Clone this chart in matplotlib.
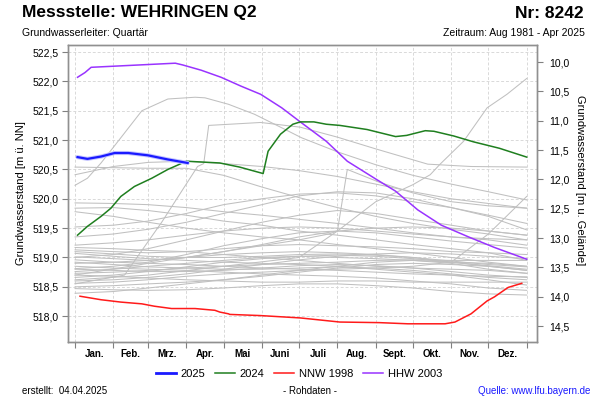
import matplotlib
matplotlib.use("Agg")
import matplotlib.pyplot as plt
from matplotlib.ticker import FuncFormatter, FixedLocator
from matplotlib.lines import Line2D

plt.rcParams['font.family'] = ['Liberation Sans', 'DejaVu Sans']

# ---------------- data ----------------
month_starts = [0, 31, 59, 90, 120, 151, 181, 212, 243, 273, 304, 334, 365]
month_labels = ["Jan.", "Feb.", "Mrz.", "Apr.", "Mai", "Juni", "Juli", "Aug.", "Sept.", "Okt.", "Nov.", "Dez."]
ground_level = 532.33

# 2025 (blue)
days_2025 = [2, 10, 21, 32, 43, 59, 75, 91]
lvl_2025 = [520.71, 520.68, 520.72, 520.78, 520.78, 520.74, 520.67, 520.61]

# 2024 (green)
days_2024 = [2, 10, 21, 29, 37, 48, 62, 75, 90, 117, 133, 152, 156, 166, 176, 182, 193, 203, 214,
             236, 259, 268, 283, 290, 306, 322, 343, 365]
lvl_2024 = [519.38, 519.53, 519.70, 519.84, 520.04, 520.21, 520.35, 520.50, 520.64, 520.61, 520.54,
            520.43, 520.81, 521.10, 521.27, 521.31, 521.31, 521.27, 521.25, 521.18, 521.06, 521.08,
            521.16, 521.15, 521.07, 520.97, 520.86, 520.71]

# NNW 1998 (red)
days_1998 = [4, 21, 37, 54, 64, 78, 97, 113, 117, 124, 125, 150, 182, 214, 246, 269, 299, 307,
             320, 333, 339, 350, 361]
lvl_1998 = [518.34, 518.28, 518.24, 518.21, 518.17, 518.13, 518.13, 518.10, 518.07, 518.04, 518.03,
            518.01, 517.97, 517.90, 517.89, 517.87, 517.87, 517.90, 518.04, 518.26, 518.33, 518.49,
            518.56]

# HHW 2003 (purple)
days_2003 = [2, 8, 13, 81, 87, 102, 118, 134, 150, 167, 182, 203, 220, 242, 259, 277, 296, 318,
             339, 365]
lvl_2003 = [522.07, 522.15, 522.24, 522.31, 522.28, 522.19, 522.07, 521.92, 521.78, 521.55, 521.31,
            520.98, 520.64, 520.35, 520.13, 519.81, 519.55, 519.35, 519.17, 518.97]

# other years (grey), values at month starts
g01 = [520.41, 520.55, 520.62, 520.64, 520.60, 520.55, 520.48, 520.38, 520.25, 520.12, 520.00, 519.92, 519.84]
g02 = [519.93, 519.92, 519.90, 519.85, 519.78, 519.72, 519.65, 519.58, 519.50, 519.42, 519.35, 519.30, 519.21]
g03 = [519.84, 519.85, 519.80, 519.72, 519.62, 519.55, 519.45, 519.38, 519.30, 519.22, 519.15, 519.08, 518.95]
g04 = [519.78, 519.70, 519.60, 519.50, 519.42, 519.35, 519.30, 519.22, 519.15, 519.08, 519.00, 518.92, 518.85]
g05 = [519.52, 519.55, 519.62, 519.75, 519.90, 520.00, 520.08, 520.10, 520.05, 519.95, 519.85, 519.72, 519.58]
g06 = [519.35, 519.40, 519.48, 519.60, 519.75, 519.90, 520.05, 520.12, 520.10, 520.00, 519.85, 519.70, 519.47]
g07 = [519.21, 519.25, 519.30, 519.38, 519.45, 519.50, 519.52, 519.50, 519.45, 519.40, 519.35, 519.32, 519.30]
g08 = [519.17, 519.15, 519.12, 519.10, 519.05, 519.00, 518.95, 518.90, 518.85, 518.82, 518.80, 518.78, 518.73]
g09 = [519.13, 519.10, 519.08, 519.10, 519.15, 519.20, 519.22, 519.20, 519.18, 519.15, 519.10, 519.08, 519.05]
g10 = [519.07, 519.02, 518.98, 518.95, 518.92, 518.90, 518.88, 518.85, 518.80, 518.75, 518.70, 518.62, 518.53]
g11 = [519.01, 518.98, 518.95, 519.00, 519.10, 519.22, 519.35, 519.45, 519.50, 519.52, 519.50, 519.45, 519.38]
g12 = [518.96, 518.92, 518.90, 518.88, 518.85, 518.82, 518.80, 518.78, 518.75, 518.72, 518.70, 518.68, 518.67]
g13 = [518.90, 518.92, 518.95, 519.00, 519.05, 519.08, 519.10, 519.08, 519.05, 519.00, 518.92, 518.85, 518.78]
g14 = [518.85, 518.82, 518.80, 518.78, 518.75, 518.72, 518.70, 518.68, 518.65, 518.60, 518.55, 518.48, 518.44]
g15 = [518.81, 518.85, 518.92, 519.05, 519.20, 519.32, 519.42, 519.45, 519.42, 519.35, 519.28, 519.22, 519.16]
g16 = [518.76, 518.80, 518.85, 518.90, 518.95, 519.00, 519.02, 519.00, 518.98, 518.95, 518.92, 518.90, 518.85]
g17 = [518.73, 518.75, 518.78, 518.82, 518.85, 518.88, 518.90, 518.92, 518.95, 518.96, 518.95, 518.95, 518.95]
g18 = [518.70, 518.68, 518.65, 518.62, 518.60, 518.58, 518.58, 518.60, 518.60, 518.58, 518.58, 518.58, 518.58]
g19 = [518.56, 518.58, 518.62, 518.68, 518.72, 518.75, 518.78, 518.80, 518.82, 518.85, 518.92, 519.40, 520.04]
g20 = [518.50, 518.52, 518.55, 518.58, 518.62, 518.68, 518.75, 518.82, 518.88, 518.90, 518.88, 518.85, 518.78]
g21 = [518.47, 518.45, 518.44, 518.45, 518.48, 518.52, 518.55, 518.55, 518.52, 518.48, 518.42, 518.38, 518.36]
g22 = [518.39, 518.42, 518.48, 518.55, 518.62, 518.70, 518.78, 518.85, 518.92, 518.95, 518.90, 518.80, 518.73]
g23 = [520.54, 520.53, 520.52, 520.52, 520.40, 520.20, 520.02, 519.85, 519.70, 519.58, 519.48, 519.40, 519.30]
g24 = [519.00, 519.05, 519.15, 519.30, 519.45, 519.60, 519.72, 519.80, 519.75, 519.65, 519.55, 519.45, 519.38]
g25 = [518.66, 518.70, 518.76, 518.84, 518.92, 518.98, 519.02, 519.04, 519.02, 518.98, 518.92, 518.86, 518.80]
g26 = [518.92, 518.88, 518.84, 518.82, 518.80, 518.80, 518.82, 518.84, 518.82, 518.78, 518.72, 518.66, 518.62]
g27 = [518.60, 518.62, 518.66, 518.72, 518.80, 518.88, 518.96, 519.02, 519.06, 519.08, 519.06, 519.02, 518.98]
g28 = [519.10, 519.06, 519.02, 519.00, 519.00, 519.02, 519.05, 519.06, 519.04, 519.00, 518.94, 518.88, 518.84]
g29 = [518.80, 518.78, 518.76, 518.76, 518.78, 518.82, 518.86, 518.88, 518.86, 518.82, 518.76, 518.70, 518.66]

# grey years with irregular sampling
days_s1 = [0, 10, 21, 37, 54, 75, 97, 105, 124, 145, 167, 183, 212, 243, 273, 304, 334, 365]
lvl_s1 = [520.23, 520.35, 520.61, 521.04, 521.50, 521.70, 521.73, 521.72, 521.61, 521.44, 521.21,
          521.04, 520.80, 520.58, 520.40, 520.25, 520.12, 519.98]
days_s2 = [0, 40, 70, 99, 104, 108, 150, 182, 212, 243, 285, 320, 365]
lvl_s2 = [518.55, 518.70, 519.60, 520.55, 520.60, 521.25, 521.30, 521.22, 521.05, 520.85, 520.59,
          520.55, 520.54]
days_s3 = [0, 59, 120, 181, 212, 243, 273, 287, 295, 314, 333, 349, 365]
lvl_s3 = [518.62, 518.70, 518.85, 519.00, 519.45, 519.95, 520.24, 520.41, 520.59, 520.98, 521.55,
          521.78, 522.05]
days_s4 = [0, 59, 120, 181, 205, 212, 220, 246, 273, 304, 334, 365]
lvl_s4 = [518.70, 518.90, 519.10, 519.30, 519.40, 519.45, 520.50, 520.28, 520.10, 519.95, 519.88, 519.84]

grey_monthly = [g01, g02, g03, g04, g05, g06, g07, g08, g09, g10, g11, g12, g13, g14, g15,
                g16, g17, g18, g19, g20, g21, g22, g23, g24, g25, g26, g27, g28, g29]
grey_irregular = [(days_s1, lvl_s1), (days_s2, lvl_s2), (days_s3, lvl_s3), (days_s4, lvl_s4)]

# ---------------- figure ----------------
fig = plt.figure(figsize=(6, 4), dpi=100)
ax = fig.add_axes([68/600, 1-342/400, (537-68)/600, (342-45)/400])

grey = '#c0c0c0'
for g in grey_monthly:
    ax.plot(month_starts, g, color=grey, lw=0.75, zorder=2)
for d, v in grey_irregular:
    ax.plot(d, v, color=grey, lw=0.75, zorder=2)

c_2025 = '#1a1aff'
c_2024 = '#1f7f1f'
c_1998 = '#ff1a1a'
c_2003 = '#9933ff'
ax.plot(days_1998, lvl_1998, color=c_1998, lw=1.1, zorder=4)
ax.plot(days_2003, lvl_2003, color=c_2003, lw=1.1, zorder=4)
ax.plot(days_2024, lvl_2024, color=c_2024, lw=1.1, zorder=4)
ax.plot(days_2025, lvl_2025, color='#c4c4ff', lw=3.0, zorder=5, solid_capstyle='round')
ax.plot(days_2025, lvl_2025, color=c_2025, lw=1.6, zorder=6)

ymin, ymax = 517.56, 522.62
ax.set_xlim(-5.7, 373.3)
ax.set_ylim(ymin, ymax)

fmt = FuncFormatter(lambda v, p: f"{v:.1f}".replace('.', ','))
ax.yaxis.set_major_locator(FixedLocator([518.0, 518.5, 519.0, 519.5, 520.0, 520.5, 521.0, 521.5, 522.0, 522.5]))
ax.yaxis.set_major_formatter(fmt)

ax.xaxis.set_major_locator(FixedLocator(month_starts))
ax.xaxis.set_major_formatter(FuncFormatter(lambda v, p: ""))
mids = [(month_starts[i] + month_starts[i+1]) / 2 for i in range(12)]
ax.xaxis.set_minor_locator(FixedLocator(mids))
ax.set_xticklabels(month_labels, minor=True)
ax.tick_params(axis='x', which='minor', length=0, pad=5, labelsize=7, colors='black')
for t in ax.get_xticklabels(minor=True):
    t.set_fontweight('bold')
ax.tick_params(axis='x', which='major', length=4, color='#808080')
ax.tick_params(axis='y', which='major', length=4, color='#808080', labelsize=7.5, pad=3)

ax.grid(True, which='major', color='#d9d9d9', ls=(0, (3, 2)), lw=0.7, zorder=0)
ax.set_axisbelow(True)
for s in ax.spines.values():
    s.set_color('#909090')
    s.set_linewidth(1.0)

ax2 = ax.twinx()
ax2.set_ylim(ground_level - ymin, ground_level - ymax)
ax2.yaxis.set_major_locator(FixedLocator([10.0, 10.5, 11.0, 11.5, 12.0, 12.5, 13.0, 13.5, 14.0, 14.5]))
ax2.yaxis.set_major_formatter(fmt)
ax2.tick_params(axis='y', length=4, color='#808080', labelsize=7.5, pad=5)
for s in ax2.spines.values():
    s.set_color('#909090')
    s.set_linewidth(1.0)

# texts
fig.text(22/600, 1-13/400, "Messstelle: WEHRINGEN Q2", fontsize=12.5, fontweight='bold', va='center', ha='left')
fig.text(584/600, 1-13/400, "Nr: 8242", fontsize=12.5, fontweight='bold', va='center', ha='right')
fig.text(22/600, 1-33/400, "Grundwasserleiter: Quartär", fontsize=7.5, va='center', ha='left')
fig.text(585/600, 1-33/400, "Zeitraum: Aug 1981 - Apr 2025", fontsize=7.5, va='center', ha='right')
fig.text(21/600, 1-193/400, "Grundwasserstand [m ü. NN]", fontsize=8, rotation=90, va='center', ha='center')
fig.text(580/600, 1-180/400, "Grundwasserstand [m u. Gelände]", fontsize=8, rotation=-90, va='center', ha='center')

handles = [Line2D([], [], color=c_2025, lw=2.0), Line2D([], [], color=c_2024, lw=1.1),
           Line2D([], [], color=c_1998, lw=1.1), Line2D([], [], color=c_2003, lw=1.1)]
fig.legend(handles, ["2025", "2024", "NNW 1998", "HHW 2003"], loc='center', bbox_to_anchor=(299/600, 1-374/400),
           ncol=4, frameon=False, fontsize=8, handlelength=1.8, handletextpad=0.4, columnspacing=0.9)

fig.text(22/600, 1-391/400, "erstellt:  04.04.2025", fontsize=7, va='center', ha='left')
fig.text(310/600, 1-391/400, "- Rohdaten -", fontsize=7, va='center', ha='center')
fig.text(590/600, 1-391/400, "Quelle: www.lfu.bayern.de", fontsize=7, va='center', ha='right', color='#1a1aff')

fig.savefig("out.png", dpi=100)
